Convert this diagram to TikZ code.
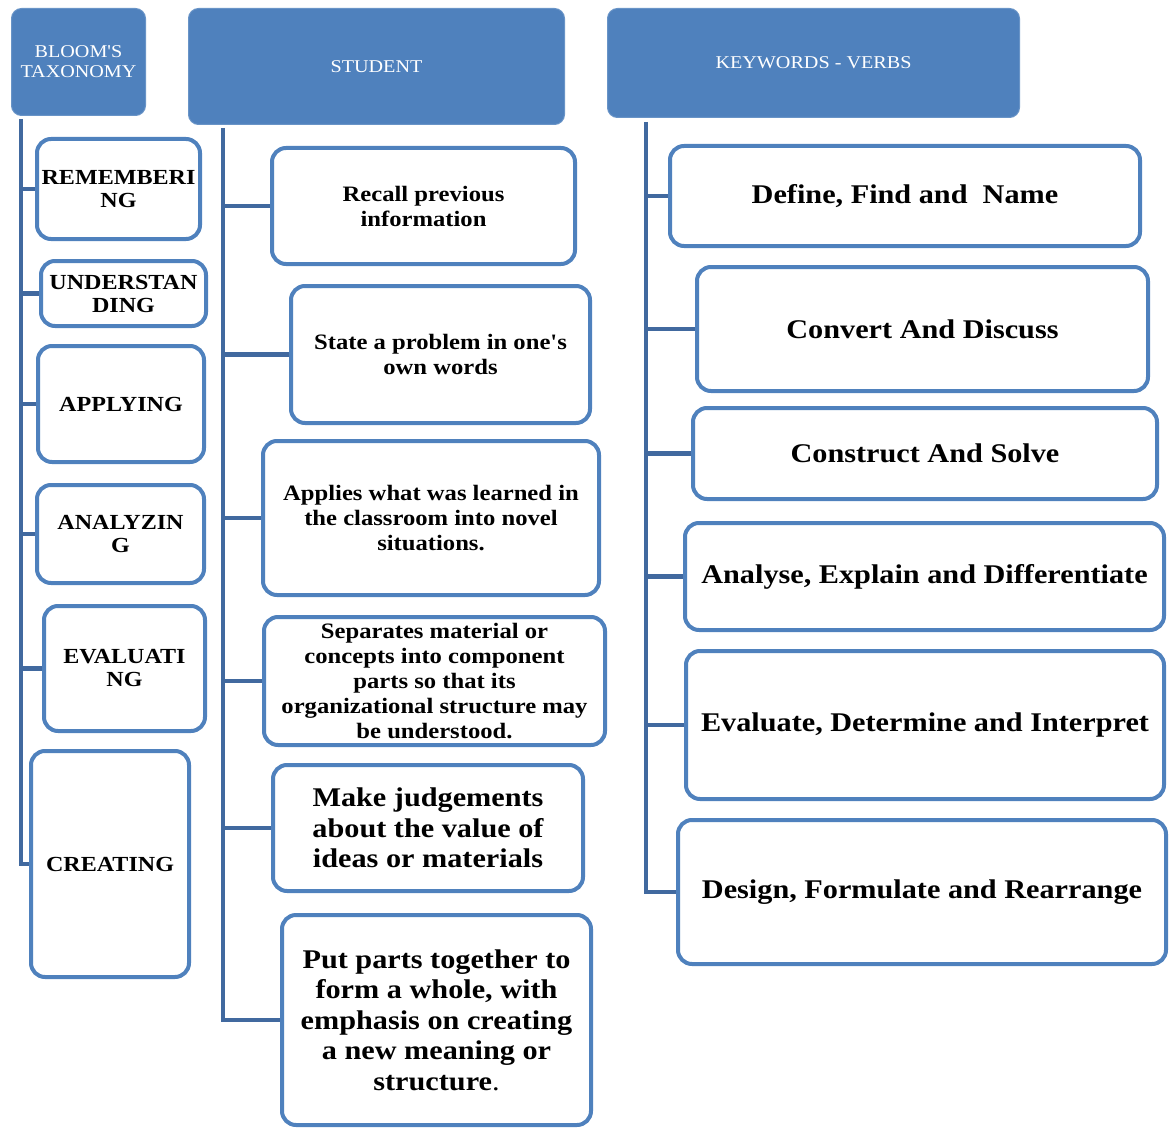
\documentclass[tikz,border=0pt]{standalone}
\usepackage{fontspec}
\setmainfont{Liberation Serif}[FakeStretch=1.12, Ligatures=TeXOff]
\definecolor{hdr}{HTML}{4F81BD}
\definecolor{bd}{HTML}{4F81BD}
\definecolor{ln}{HTML}{41699F}
\tikzset{
  hdrbox/.style={fill=hdr, draw=hdr!85!white, line width=1pt, rounded corners=10pt,
    text=white, align=center, inner sep=0pt, font=\fontsize{18}{20}\selectfont},
  itembox/.style={draw=bd, line width=4pt, fill=white, rounded corners=14pt,
    align=center, inner sep=0pt},
  smalltxt/.style={font=\bfseries\fontsize{22}{25}\selectfont},
  lefttxt/.style={font=\bfseries\fontsize{21.5}{23}\selectfont},
  bigtxt/.style={font=\bfseries\fontsize{27}{30.5}\selectfont},
  conn/.style={draw=ln, line width=4.5pt},
}
\begin{document}
\begin{tikzpicture}[x=1pt,y=-1pt]
\useasboundingbox (0,0) rectangle (1173,1129);
% headers
\node[hdrbox, minimum width=134, minimum height=107] (blm) at (78.5,62) {BLOOM'S\\TAXONOMY};
\node[hdrbox, minimum width=376, minimum height=116] (stu) at (376.5,66.5) {STUDENT};
\node[hdrbox, minimum width=412, minimum height=109] (key) at (813.5,63) {KEYWORDS - VERBS};
% left column
\node[itembox, lefttxt, minimum width=163, minimum height=100] (rem) at (118.5,189) {REMEMBERI\\NG};
\node[itembox, lefttxt, minimum width=165, minimum height=65] (und) at (123.5,293.5) {UNDERSTAN\\DING};
\node[itembox, lefttxt, minimum width=166, minimum height=116] (app) at (121,404) {APPLYING};
\node[itembox, lefttxt, minimum width=167, minimum height=98] (ana) at (120.5,534) {ANALYZIN\\G};
\node[itembox, lefttxt, minimum width=161, minimum height=125] (eva) at (124.5,668.5) {EVALUATI\\NG};
\node[itembox, lefttxt, minimum width=158, minimum height=226] (crt) at (110,864) {CREATING};
% middle column
\node[itembox, smalltxt, minimum width=303, minimum height=116] (rec) at (423.5,206) {Recall previous\\information};
\node[itembox, smalltxt, minimum width=299, minimum height=137] (sta) at (440.5,354.5) {State a problem in one's\\own words};
\node[itembox, smalltxt, minimum width=336, minimum height=154] (apl) at (431,518) {Applies what was learned in\\the classroom into novel\\situations.};
\node[itembox, smalltxt, minimum width=341, minimum height=128] (sep) at (434.5,681) {Separates material or\\concepts into component\\parts so that its\\organizational structure may\\be understood.};
\node[itembox, bigtxt, minimum width=310, minimum height=126] (mak) at (428,828) {Make judgements\\about the value of\\ideas or materials};
\node[itembox, bigtxt, minimum width=309, minimum height=210] (put) at (436.5,1020) {Put parts together to\\form a whole, with\\emphasis on creating\\a new meaning or\\structure{\mdseries .}};
% right column
\node[itembox, bigtxt, minimum width=470, minimum height=100] (def) at (905,196) {Define, Find and\ \ Name};
\node[itembox, bigtxt, minimum width=451, minimum height=124] (con) at (922.5,329) {Convert And Discuss};
\node[itembox, bigtxt, minimum width=464, minimum height=91] (cns) at (925,453.5) {Construct And Solve};
\node[itembox, bigtxt, minimum width=479, minimum height=107] (ans) at (924.5,576.5) {Analyse, Explain and Differentiate};
\node[itembox, bigtxt, minimum width=478, minimum height=148] (evl) at (925,725) {Evaluate, Determine and Interpret};
\node[itembox, bigtxt, minimum width=488, minimum height=144] (des) at (922,892) {Design, Formulate and Rearrange};
% connectors
\coordinate (lt) at (21,119);
\coordinate (mt) at (223,128);
\coordinate (rt) at (646,122);
\draw[conn] (lt) |- (crt.west);
\foreach \n in {rem,und,app,ana,eva} \draw[conn] (lt |- \n.west) -- (\n.west);
\draw[conn] (mt) |- (put.west);
\foreach \n in {rec,sta,apl,sep,mak} \draw[conn] (mt |- \n.west) -- (\n.west);
\draw[conn] (rt) |- (des.west);
\foreach \n in {def,con,cns,ans,evl} \draw[conn] (rt |- \n.west) -- (\n.west);
\end{tikzpicture}
\end{document}
